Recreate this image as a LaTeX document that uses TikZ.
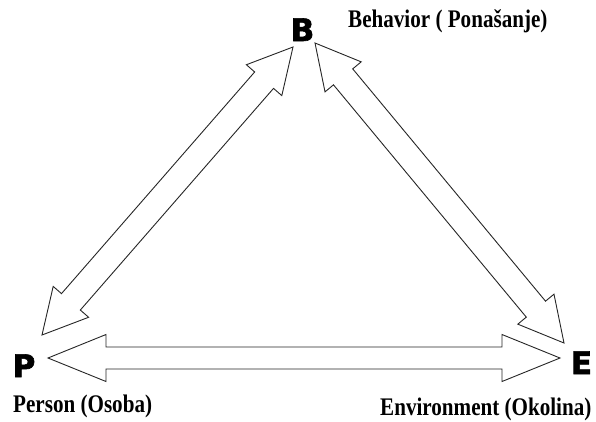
\documentclass[tikz,border=0pt]{standalone}
\usepackage{fontspec}
\usepackage{graphicx}
\setmainfont{Liberation Serif}
\newfontfamily\heavyfont{DejaVu Sans}[UprightFont={* Bold}, FakeBold=2]
\usetikzlibrary{calc}
\newcommand\tallbox[1]{\scalebox{1}[1.2]{#1}}
\tikzset{
  blockarr/.style={draw=black!85, line width=0.9pt, fill=white, line join=miter},
  letter/.style={font=\heavyfont\fontsize{31}{31}\selectfont, inner sep=0pt, anchor=base},
  lab/.style={font=\bfseries\fontsize{21.1}{22}\selectfont, inner sep=0pt, anchor=base west}
}
\newcommand\blockarrow[5]{%
  \draw[blockarr] (#1)
    -- ($(#1)!#3!(#2)!#4!90:(#2)$)
    -- ($(#1)!#3!(#2)!#5!90:(#2)$)
    -- ($(#2)!#3!(#1)!#5!-90:(#1)$)
    -- ($(#2)!#3!(#1)!#4!-90:(#1)$)
    -- (#2)
    -- ($(#2)!#3!(#1)!#4!90:(#1)$)
    -- ($(#2)!#3!(#1)!#5!90:(#1)$)
    -- ($(#1)!#3!(#2)!#5!-90:(#2)$)
    -- ($(#1)!#3!(#2)!#4!-90:(#2)$)
    -- cycle;}
\begin{document}
\begin{tikzpicture}[x=1pt,y=-1pt]
\useasboundingbox (0,0) rectangle (596,421);
% letters
\node[letter] (B) at (302.5,41) {B};
\node[letter] (P) at (24,377) {P};
\node[letter] (E) at (581.5,374) {E};
% labels
\node[lab] (Bl) at (348,27) {\tallbox{Behavior ( Ponašanje)}};
\node[lab] (Pl) at (13,412) {\tallbox{Person (Osoba)}};
\node[lab] (El) at (380,415) {\tallbox{Environment (Okolina)}};
% arrow tips
\coordinate (PB1) at (42,335);
\coordinate (PB2) at (293,47);
\coordinate (BE1) at (315,43);
\coordinate (BE2) at (564,343);
\coordinate (PE1) at (48,358);
\coordinate (PE2) at (560,358);
\blockarrow{PB1}{PB2}{44pt}{23.5pt}{12.5pt}
\blockarrow{BE1}{BE2}{44pt}{23.5pt}{12.5pt}
\blockarrow{PE1}{PE2}{58pt}{23.5pt}{11pt}
\end{tikzpicture}
\end{document}
